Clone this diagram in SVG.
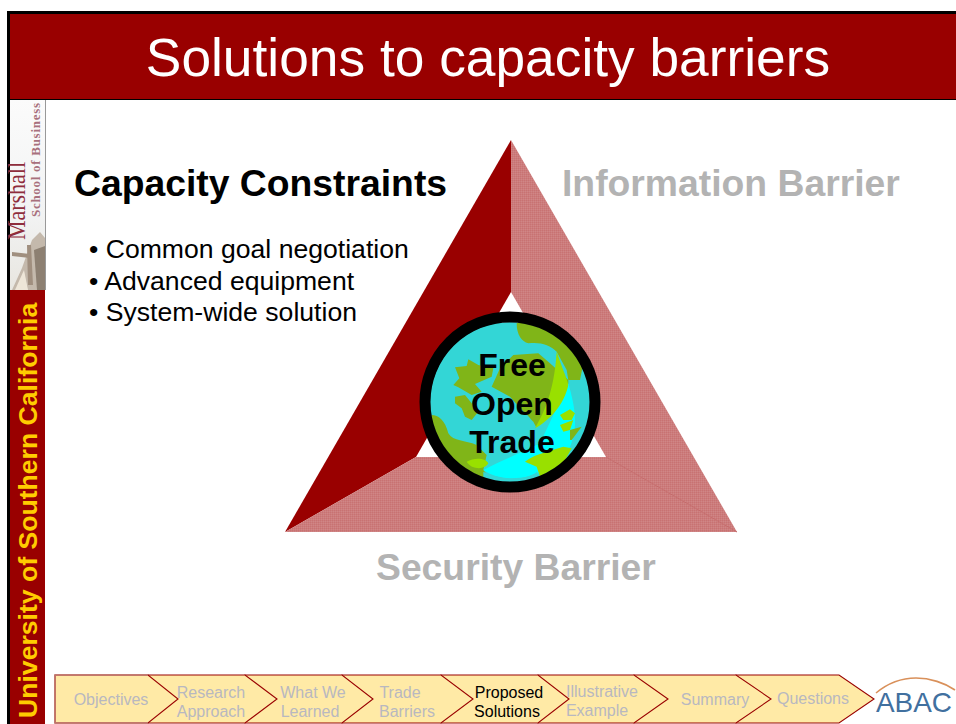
<svg xmlns="http://www.w3.org/2000/svg" width="956" height="724" viewBox="0 0 956 724">
<style>
text{font-family:"Liberation Sans",Arial,sans-serif}
.h{font-size:37.3px;font-weight:bold}
.g{fill:#b3b3b3}
.b{font-size:26.6px;fill:#000}
.c{font-size:32px;font-weight:bold;fill:#000;text-anchor:middle}
.ch{fill:#ffeaa6;stroke:#990000;stroke-width:1.1}
.n{font-size:16px;fill:#b8b8c0;text-anchor:middle}
.pink{fill:url(#chk)}
</style>
<defs>
<pattern id="chk" width="2" height="2" patternUnits="userSpaceOnUse">
<rect width="2" height="2" fill="#cc7c7c"/>
<rect width="1" height="1" fill="#c87272"/>
<rect x="1" y="1" width="1" height="1" fill="#d08686"/>
</pattern>
<clipPath id="gc"><circle cx="330" cy="366" r="240"/></clipPath>
<clipPath id="sb"><rect x="10" y="100" width="35" height="190"/></clipPath>
<linearGradient id="sky" x1="0" y1="0" x2="0" y2="1"><stop offset="0" stop-color="#fbfbfb"/><stop offset=".6" stop-color="#f2f3f3"/><stop offset="1" stop-color="#e8e6e0"/></linearGradient>
</defs>
<rect width="956" height="724" fill="#fff"/>
<g id="frame">
<rect x="7" y="11" width="949" height="89" fill="#000"/>
<rect x="7" y="11" width="3" height="713" fill="#000"/>
<rect x="10" y="14" width="946" height="85" fill="#990000"/>
<text x="488" y="76" font-size="53.3" fill="#fff" text-anchor="middle">Solutions to capacity barriers</text>
</g>
<g id="sidebar">
<rect x="10" y="100" width="35" height="190" fill="url(#sky)"/>
<g clip-path="url(#sb)">
<path d="M12 290L22 268L32 240L40 232L45 238L45 290Z" fill="#c4b9ac"/>
<path d="M12 252L30 254V258L12 256ZM27 245L31 245L33 285L28 285Z" fill="#a08f7f"/>
<path d="M34 250L45 246V290H37Z" fill="#8d8072"/>
<path d="M15 290L24 270L28 290Z" fill="#eee6d8"/>
</g>
<text transform="translate(25,240) rotate(-90)" style="font-family:'Liberation Serif',serif" font-size="25" fill="#8f2d3c" textLength="78" lengthAdjust="spacingAndGlyphs">Marshall</text>
<text transform="translate(40,217) rotate(-90)" style="font-family:'Liberation Serif',serif" font-size="13" font-weight="bold" fill="#a8707c" textLength="114" lengthAdjust="spacing">School of Business</text>
<rect x="45" y="100" width="1" height="190" fill="#999"/>
<rect x="10" y="290" width="35" height="434" fill="#990000"/>
<text transform="translate(37,718) rotate(-90)" font-size="26.6" font-weight="bold" fill="#ffcc00">University of Southern California</text>
</g>
<g id="triangle">
<polygon id="capacity-segment" points="511,140 285,532 416,457 511,292" fill="#990000"/>
<polygon id="information-segment" class="pink" points="511,140 737,532 606,457 511,292"/>
<polygon id="security-segment" class="pink" points="285,532 737,532 606,457 416,457"/>
<path d="M606 457L737 532" stroke="#c56a6a" stroke-width="1" fill="none"/>
</g>
<g id="capacity-text">
<text class="h" x="74" y="196">Capacity Constraints</text>
<text class="b" x="89" y="258">• Common goal negotiation</text>
<text class="b" x="89" y="290">• Advanced equipment</text>
<text class="b" x="89" y="321">• System-wide solution</text>
</g>
<g id="information-barrier"><text class="h g" x="562" y="196">Information Barrier</text></g>
<g id="security-barrier"><text class="h g" x="376" y="580">Security Barrier</text></g>
<g id="globe">
<g transform="translate(400,280) scale(.33333)">
<circle cx="330" cy="366" r="240" fill="#33d6d6"/>
<g clip-path="url(#gc)">
<path d="M250 570C310 540 370 515 420 490L505 310C525 380 540 450 500 520C450 590 320 620 250 570Z" fill="#00ffff"/>
<path d="M350 130L420 110L560 200L540 300L505 300L500 270L470 215C450 195 420 185 385 190C365 185 350 165 350 130Z" fill="#80b518"/>
<path d="M505 310C490 370 450 405 408 440L400 425C385 410 380 400 370 395L330 350L275 320L300 265L340 225L415 220L450 250L470 268L505 300Z" fill="#80b518"/>
<path d="M470 215C488 270 500 290 505 315C492 375 450 420 405 445C430 400 462 340 470 215Z" fill="#99e000"/>
<path d="M165 262L200 258L205 238L235 255L280 265L275 290L225 312L245 335L215 345L175 322L160 315L178 295Z" fill="#80b518"/>
<path d="M165 350L195 345L215 370L235 395L215 420L195 410L185 385L165 370Z" fill="#80b518"/>
<path d="M95 405C115 405 135 420 145 460C160 485 195 480 230 495L260 525L250 570L290 620H90Z" fill="#80b518"/>
<path d="M200 545C225 530 260 535 265 550C255 570 215 570 200 545Z" fill="#99e000"/>
<path d="M375 545C395 530 410 525 440 515L490 500L515 505L490 550L420 590L410 560Z" fill="#99e000"/>
<path d="M480 405L510 388L525 400L515 420L490 420ZM480 435L520 420L510 450L490 455Z" fill="#99e000"/>
<path d="M510 480L510 450L545 440L515 480Z" fill="#80b518"/>
<path d="M250 575C300 600 370 605 412 575L420 620H250Z" fill="#33d6d6"/>
</g>
<circle cx="330" cy="366" r="255" fill="none" stroke="#000" stroke-width="33"/>
</g>
<text class="c" x="512" y="376">Free</text>
<text class="c" x="512" y="415">Open</text>
<text class="c" x="512" y="453">Trade</text>
</g>
<g id="nav">
<g id="nav-questions"><polygon class="ch" points="736,675 839,675 874,699 839,723 736,723"/><text class="n" x="813" y="704">Questions</text></g>
<g id="nav-summary"><polygon class="ch" points="634,675 736,675 771,699 736,723 634,723"/><text class="n" x="715" y="705">Summary</text></g>
<g id="nav-illustrative"><polygon class="ch" points="538,675 634,675 668,699 634,723 538,723"/><text class="n" x="602" y="697">Illustrative</text><text class="n" x="597" y="716">Example</text></g>
<g id="nav-proposed"><polygon class="ch" points="441,675 538,675 569,699 538,723 441,723"/><text class="n" style="fill:#000" x="509" y="698">Proposed</text><text class="n" style="fill:#000" x="507" y="717">Solutions</text></g>
<g id="nav-trade"><polygon class="ch" points="342,675 441,675 473,699 441,723 342,723"/><text class="n" x="400" y="698">Trade</text><text class="n" x="407" y="717">Barriers</text></g>
<g id="nav-what"><polygon class="ch" points="245,675 342,675 373,699 342,723 245,723"/><text class="n" x="313" y="698">What We</text><text class="n" x="310" y="717">Learned</text></g>
<g id="nav-research"><polygon class="ch" points="148,675 245,675 277,699 245,723 148,723"/><text class="n" x="211" y="698">Research</text><text class="n" x="211" y="717">Approach</text></g>
<g id="nav-objectives"><polygon class="ch" points="55,675 148,675 178,699 148,723 55,723" /><path d="M148 675H55V723H148" fill="none" stroke="#c07a70" stroke-width="1.3"/><text class="n" x="111" y="705">Objectives</text></g>
</g>
<g id="abac-logo">
<path d="M876 693C888 683 902 678 916 678C930 678 945 683 955 690" fill="none" stroke="#d9905a" stroke-width="1.6"/>
<text x="876" y="712" font-size="28.5" fill="#41709f" textLength="76" lengthAdjust="spacingAndGlyphs">ABAC</text>
</g>
</svg>
